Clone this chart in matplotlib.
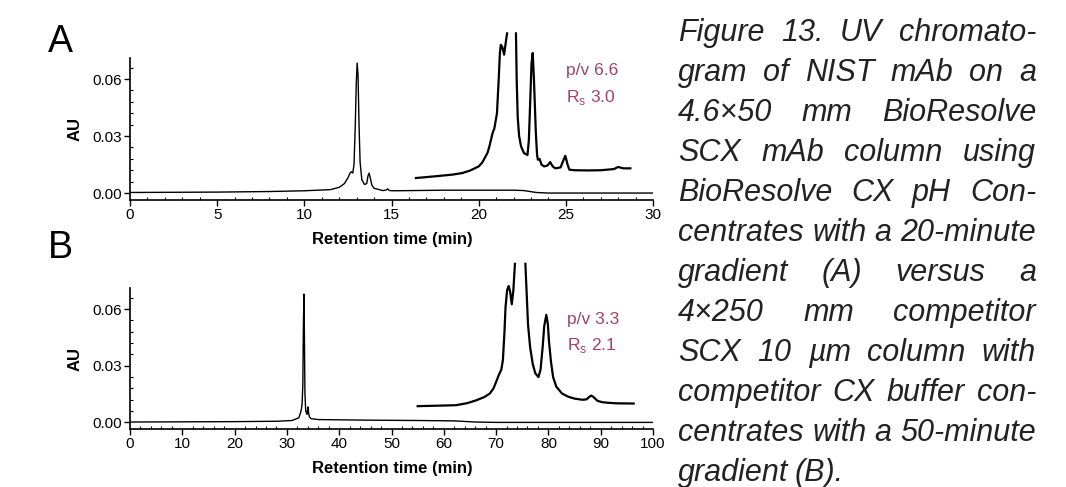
import numpy as np
import matplotlib
matplotlib.use('Agg')
import matplotlib.pyplot as plt
from matplotlib.ticker import MultipleLocator

plt.rcParams['font.family'] = ['Liberation Sans', 'DejaVu Sans']
plt.rcParams['mathtext.fontset'] = 'custom'
plt.rcParams['mathtext.rm'] = 'Liberation Sans'

# ---- panel A: full chromatogram (time in min, absorbance in AU)
a_time = [0, 5, 8, 10, 11.5, 12.0, 12.3, 12.5, 12.62, 12.7, 12.78, 12.85, 12.92, 12.98, 13.03,
          13.08, 13.14, 13.2, 13.3, 13.45, 13.58, 13.65, 13.72, 13.78, 13.88, 14.0, 14.3, 14.5,
          14.7, 14.78, 14.88, 15.2, 18, 22, 22.6, 23.3, 24, 30]
a_au = [0.0003, 0.0005, 0.0008, 0.0012, 0.0018, 0.003, 0.005, 0.008, 0.0105, 0.0112, 0.0105,
        0.015, 0.035, 0.058, 0.0684, 0.062, 0.035, 0.016, 0.007, 0.0045, 0.005, 0.009, 0.0105,
        0.008, 0.004, 0.0025, 0.0018, 0.0013, 0.0016, 0.0022, 0.0013, 0.0012, 0.0015, 0.0015,
        0.0013, 0.0003, 0.0, 0.0]

# panel A: zoomed main-peak region, drawn offset above the trace
a_zoom_time = [16.4, 17.5, 18.5, 19.05, 19.5, 20.0, 20.2, 20.5, 20.6, 20.8, 20.9, 21.05, 21.15,
               21.22, 21.27, 21.35, 21.46, 21.55, 21.63, np.nan, 22.14, 22.18, 22.24, 22.32, 22.43,
               22.6, 22.8, 22.88, 22.96, 23.03, 23.1, 23.17, 23.28, 23.35, 23.4, 23.5, 23.6, 23.75,
               23.95, 24.1, 24.25, 24.4, 24.7, 24.85, 24.97, 25.1, 25.2, 25.5, 26.3, 27.0, 27.75,
               28.0, 28.3, 28.7]
a_zoom_au = [0.0079, 0.0088, 0.0097, 0.0105, 0.0118, 0.014, 0.016, 0.021, 0.024, 0.0316, 0.034,
             0.042, 0.06, 0.074, 0.078, 0.077, 0.0728, 0.079, 0.084, np.nan, 0.084, 0.06, 0.040,
             0.030, 0.0246, 0.021, 0.020, 0.028, 0.049, 0.068, 0.0737, 0.06, 0.0316, 0.02, 0.0175,
             0.0179, 0.015, 0.014, 0.0145, 0.0163, 0.014, 0.013, 0.0135, 0.017, 0.0196, 0.015,
             0.0123, 0.012, 0.0119, 0.012, 0.0126, 0.0137, 0.013, 0.013]

# ---- panel B
b_time = [0, 10, 20, 28, 31, 32.3, 32.7, 32.9, 33.05, 33.15, 33.25, 33.35, 33.45, 33.6, 33.85,
          33.95, 34.05, 34.15, 34.3, 34.6, 36, 45, 55, 62, 66, 70, 100]
b_au = [0.0002, 0.0003, 0.0004, 0.0006, 0.001, 0.0025, 0.006, 0.0095, 0.02, 0.05, 0.068, 0.045,
        0.015, 0.006, 0.0042, 0.0065, 0.0082, 0.005, 0.003, 0.002, 0.0015, 0.0012, 0.001, 0.0008,
        0.0002, 0.0, 0.0]

b_zoom_time = [55.0, 58, 62.3, 64.5, 66.3, 67.8, 68.8, 69.5, 70.0, 70.5, 71.0, 71.3, 71.6, 71.8,
               72.1, 72.4, 72.7, 73.0, 73.3, 73.6, np.nan, 75.6, 75.85, 76.1, 76.5, 77.0, 77.5,
               78.1, 78.5, 78.9, 79.2, 79.6, 79.9, 80.1, 80.5, 80.9, 81.5, 82.6, 83.8, 85.0, 86.5,
               87.3, 87.8, 88.2, 88.6, 89.4, 90.3, 91.4, 93, 96.3]
b_zoom_au = [0.0086, 0.0088, 0.0091, 0.0102, 0.0118, 0.0135, 0.0153, 0.018, 0.0214, 0.025, 0.028,
             0.033, 0.048, 0.0609, 0.070, 0.0723, 0.069, 0.0626, 0.07, 0.084, np.nan, 0.084, 0.068,
             0.052, 0.040, 0.031, 0.026, 0.024, 0.028, 0.0398, 0.051, 0.057, 0.052, 0.0433, 0.032,
             0.024, 0.019, 0.0153, 0.0136, 0.0126, 0.012, 0.0122, 0.0135, 0.0142, 0.0135, 0.0114,
             0.0107, 0.0104, 0.0101, 0.0100]

a_note = ['p/v 6.6', 'R$_\\mathrm{s}$ 3.0']
b_note = ['p/v 3.3', 'R$_\\mathrm{s}$ 2.1']

caption_lines = [
    'Figure 13. UV chromato-',
    'gram of NIST mAb on a',
    '4.6\u00d750 mm BioResolve',
    'SCX mAb column using',
    'BioResolve CX pH Con-',
    'centrates with a 20-minute',
    'gradient (A) versus a',
    '4\u00d7250 mm competitor',
    'SCX 10 \u00b5m column with',
    'competitor CX buffer con-',
    'centrates with a 50-minute',
    'gradient (B).',
]

W, H = 1066, 487
fig = plt.figure(figsize=(W / 100, H / 100), dpi=100)
note_color = '#a0426b'


def make_panel(rect, xmax, xmajor, xminor, t, y, zt, zy, note, note_x, note_y, letter, letter_y):
    ax = fig.add_axes(rect)
    ax.plot(t, y, color='black', lw=1.0)
    ax.plot(zt, zy, color='black', lw=1.6, clip_on=False, solid_joinstyle='round')
    ax.set_xlim(0, xmax)
    ax.set_ylim(-0.0035, 0.071)
    ax.spines['top'].set_visible(False)
    ax.spines['right'].set_visible(False)
    for s in ('left', 'bottom'):
        ax.spines[s].set_linewidth(1.2)
    ax.xaxis.set_major_locator(MultipleLocator(xmajor))
    ax.xaxis.set_minor_locator(MultipleLocator(xminor))
    ax.yaxis.set_major_locator(MultipleLocator(0.03))
    ax.yaxis.set_minor_locator(MultipleLocator(0.006))
    ax.yaxis.set_major_formatter(lambda v, p: f'{v:.2f}')
    ax.tick_params(which='major', direction='out', length=4, width=1, labelsize=11, pad=2)
    ax.tick_params(which='minor', direction='in', length=2.5, width=0.8)
    ax.text(note_x, note_y[0], note[0], color=note_color, fontsize=12.5, va='center')
    ax.text(note_x, note_y[1], note[1], color=note_color, fontsize=12.5, va='center')
    # axis titles and panel letter
    y0 = rect[1]
    fig.text(75 / W, (y0 * H + 0.5 * rect[3] * H) / H, 'AU', rotation=90, fontsize=12,
             fontweight='bold', ha='center', va='center')
    fig.text(392 / W, y0 - 40 / H, 'Retention time (min)', fontsize=12, fontweight='bold',
             ha='center', va='center')
    fig.text(48 / W, 1 - letter_y / H, letter, fontsize=27, va='baseline')
    return ax


left = 130 / W
width = 523 / W
axA = make_panel([left, 1 - 199.7 / H, width, 141.6 / H], 30, 5, 1,
                 a_time, a_au, a_zoom_time, a_zoom_au, a_note, 25.0, (0.0647, 0.0505), 'A', 52)
axB = make_panel([left, 1 - 429 / H, width, 140.6 / H], 100, 10, 2,
                 b_time, b_au, b_zoom_time, b_zoom_au, b_note, 83.6, (0.0547, 0.041), 'B', 258)

# justified italic caption on the right
fig.canvas.draw()
renderer = fig.canvas.get_renderer()
x_left, x_right = 678, 1036
for i, line in enumerate(caption_lines):
    words = line.split()
    yb = 1 - (41 + i * 40) / H
    texts = [fig.text(0, yb, w, fontsize=22, style='italic', color='#222222', va='baseline')
             for w in words]
    widths = [tx.get_window_extent(renderer).width for tx in texts]
    if i == len(caption_lines) - 1:
        gap = 6
    else:
        gap = (x_right - x_left - sum(widths)) / (len(words) - 1)
    x = x_left
    for tx, w in zip(texts, widths):
        tx.set_x(x / W)
        x += w + gap

fig.savefig('out.png', dpi=100)
